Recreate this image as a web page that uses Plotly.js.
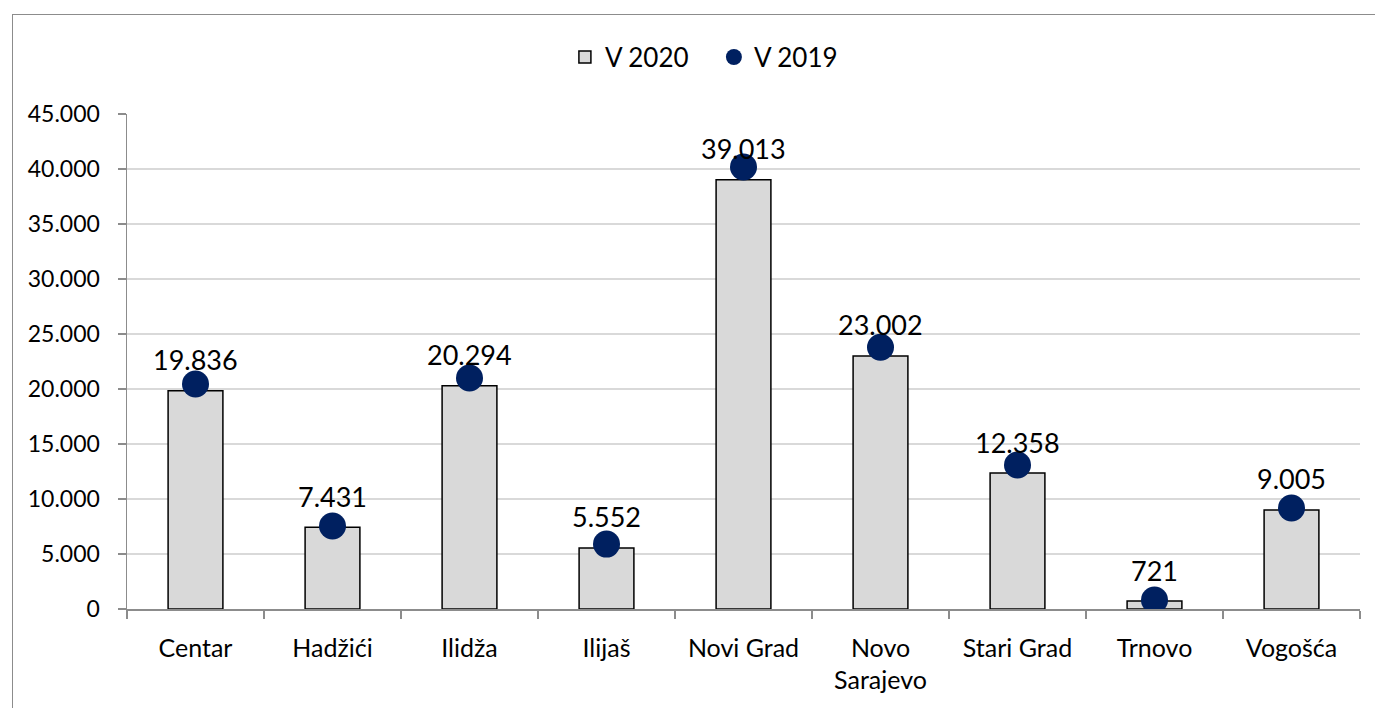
<!DOCTYPE html>
<html>
<head>
<meta charset="utf-8">
<script src="https://cdn.plot.ly/plotly-3.0.1.min.js"></script>
<style>
  html, body { margin: 0; padding: 0; background: #fff; overflow: hidden; }
  #wrap { position: absolute; left: 12px; top: 14px; width: 1363px; height: 694px;
          border-left: 1.5px solid #8c8c8c; border-top: 1.5px solid #8c8c8c; }
  #chart { width: 1362px; height: 693px; }
</style>
</head>
<body>
<div id="wrap"><div id="chart"></div></div>
<script>
const categories = ["Centar", "Hadžići", "Ilidža", "Ilijaš", "Novi Grad", "Novo<br>Sarajevo", "Stari Grad", "Trnovo", "Vogošća"];
const values2020 = [19836, 7431, 20294, 5552, 39013, 23002, 12358, 721, 9005];
const values2019 = [20450, 7550, 21000, 5900, 40180, 23800, 13090, 820, 9180];
const tickValues = [0, 5000, 10000, 15000, 20000, 25000, 30000, 35000, 40000, 45000];

const fmt = v => String(v).replace(/\B(?=(\d{3})+(?!\d))/g, '.');
const FONT = 'Lato, "Open Sans", sans-serif';

const traces = [
  {
    type: 'bar', name: 'V 2020', x: categories, y: values2020, width: 0.4,
    marker: { color: '#d9d9d9', line: { color: '#000', width: 1.5 } },
    hoverinfo: 'none'
  },
  {
    type: 'scatter', mode: 'markers', name: 'V 2019', x: categories, y: values2019,
    marker: { color: '#002060', size: 27 },
    hoverinfo: 'none'
  }
];

const annotations = categories.map((c, i) => ({
  x: c, y: values2020[i], xref: 'x', yref: 'y', text: fmt(values2020[i]),
  showarrow: false, yanchor: 'middle', yshift: 31,
  font: { family: FONT, size: 27, color: '#000' }
}));

const layout = {
  width: 1362, height: 693,
  margin: { l: 114, r: 15, t: 99, b: 99 },
  paper_bgcolor: '#fff', plot_bgcolor: '#fff',
  font: { family: FONT, color: '#000' },
  separators: ',.',
  showlegend: true,
  legend: {
    orientation: 'h', x: 0.476, xanchor: 'center', y: 1.115, yanchor: 'middle',
    entrywidth: 104, entrywidthmode: 'pixels',
    font: { family: FONT, size: 26, color: '#000' }, traceorder: 'normal'
  },
  xaxis: {
    type: 'category', range: [-0.5, 8.5], autorange: false,
    showgrid: false, showline: true, linecolor: '#8c8c8c', linewidth: 1.5,
    ticks: 'outside', tickson: 'boundaries', ticklen: 8, tickcolor: '#8c8c8c', tickwidth: 1.5,
    tickfont: { family: FONT, size: 25, color: '#000' }, ticklabelstandoff: 16,
    fixedrange: true
  },
  yaxis: {
    range: [0, 45000], autorange: false, tickvals: tickValues, tickformat: ',d',
    showgrid: true, gridcolor: '#d9d9d9', gridwidth: 1.5, zeroline: false,
    showline: true, linecolor: '#8c8c8c', linewidth: 1.5,
    ticks: 'outside', ticklen: 8, tickcolor: '#8c8c8c', tickwidth: 1.5,
    tickfont: { family: FONT, size: 23, color: '#000' }, ticklabelstandoff: 13,
    fixedrange: true
  },
  annotations: annotations,
  bargap: 0.6
};

Plotly.newPlot('chart', traces, layout, { displayModeBar: false, staticPlot: true });
</script>
</body>
</html>
